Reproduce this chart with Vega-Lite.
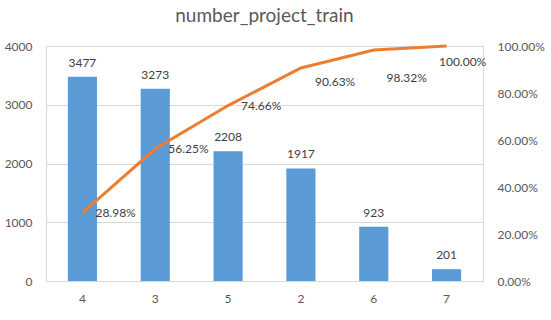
{
  "$schema": "https://vega.github.io/schema/vega-lite/v6.json",
  "autosize": {"type": "none"},
  "padding": {"left": 46, "top": 46, "right": 68, "bottom": 39},
  "width": 437,
  "height": 235,
  "background": "white",
  "title": {"text": "number_project_train", "font": "Lato", "fontSize": 19, "fontWeight": "normal", "color": "#595959", "anchor": "middle", "offset": 14},
  "config": {
    "view": {"stroke": "#d9d9d9", "strokeWidth": 1},
    "font": "Lato",
    "axis": {"labelFont": "Lato", "labelFontSize": 12, "labelColor": "#595959", "titleFont": "Lato"}
  },
  "data": {"values": [
    {"cat": "4", "count": 3477, "cum": 0.2898},
    {"cat": "3", "count": 3273, "cum": 0.5625},
    {"cat": "5", "count": 2208, "cum": 0.7466},
    {"cat": "2", "count": 1917, "cum": 0.9063},
    {"cat": "6", "count": 923, "cum": 0.9832},
    {"cat": "7", "count": 201, "cum": 1.0}
  ]},
  "encoding": {
    "x": {"field": "cat", "type": "nominal", "sort": null,
      "scale": {"paddingInner": 0.6, "paddingOuter": 0.3},
      "axis": {"title": null, "labelAngle": 0, "ticks": false, "domain": true, "domainColor": "#d9d9d9", "labelPadding": 12, "labelFontSize": 12}}
  },
  "layer": [
    {
      "encoding": {
        "y": {"field": "count", "type": "quantitative", "scale": {"domain": [0, 4000]},
          "axis": {"title": null, "values": [0, 1000, 2000, 3000, 4000], "format": "d", "grid": true, "gridColor": "#d9d9d9", "domain": false, "ticks": false, "labelPadding": 14, "orient": "left"}}
      },
      "layer": [
        {"mark": {"type": "bar", "color": "#5B9BD5"}},
        {"mark": {"type": "text", "baseline": "bottom", "dy": -7, "fontSize": 12, "color": "#404040", "font": "Lato"},
          "encoding": {"text": {"field": "count", "type": "quantitative", "format": "d"}}}
      ]
    },
    {
      "encoding": {
        "y": {"field": "cum", "type": "quantitative", "scale": {"domain": [0, 1]},
          "axis": {"title": null, "orient": "right", "values": [0, 0.2, 0.4, 0.6, 0.8, 1], "format": ".2%", "grid": false, "domain": false, "ticks": false, "labelPadding": 14}}
      },
      "layer": [
        {"mark": {"type": "line", "color": "#ED7D31", "strokeWidth": 3}},
        {"transform": [{"filter": "datum.cat == '4' || datum.cat == '3' || datum.cat == '5'"}],
          "mark": {"type": "text", "align": "left", "baseline": "middle", "dx": 13, "fontSize": 12, "color": "#404040", "font": "Lato"},
          "encoding": {"text": {"field": "cum", "type": "quantitative", "format": ".2%"}}},
        {"transform": [{"filter": "datum.cat == '2'"}],
          "mark": {"type": "text", "align": "left", "baseline": "middle", "dx": 14, "dy": 14, "fontSize": 12, "color": "#404040", "font": "Lato"},
          "encoding": {"text": {"field": "cum", "type": "quantitative", "format": ".2%"}}},
        {"transform": [{"filter": "datum.cat == '6'"}],
          "mark": {"type": "text", "align": "center", "baseline": "middle", "dx": 33, "dy": 28, "fontSize": 12, "color": "#404040", "font": "Lato"},
          "encoding": {"text": {"field": "cum", "type": "quantitative", "format": ".2%"}}},
        {"transform": [{"filter": "datum.cat == '7'"}],
          "mark": {"type": "text", "align": "center", "baseline": "middle", "dx": 16, "dy": 16, "fontSize": 12, "color": "#404040", "font": "Lato"},
          "encoding": {"text": {"field": "cum", "type": "quantitative", "format": ".2%"}}}
      ]
    }
  ],
  "resolve": {"scale": {"y": "independent"}}
}
